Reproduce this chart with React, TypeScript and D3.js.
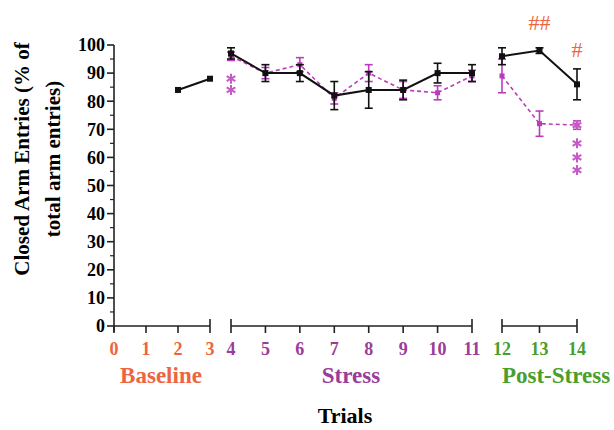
import * as d3 from 'd3';
import React from 'react';

// data
const yTicks = [0, 10, 20, 30, 40, 50, 60, 70, 80, 90, 100];
const baselineTicks = [0, 1, 2, 3];
const stressTicks = [4, 5, 6, 7, 8, 9, 10, 11];
const postTicks = [12, 13, 14];

const baselineTrials = [2, 3];
const baselineBlack = [84, 88];

const stressTrials = [4, 5, 6, 7, 8, 9, 10, 11];
const stressBlack = [97, 90, 90, 82, 84, 84, 90, 90];
const stressBlackErr = [2, 3, 3, 5, 6.5, 3.5, 3.5, 3];
const stressPink = [96, 90, 93, 81, 90, 84, 83, 89];
const stressPinkErr = [1.5, 2, 2.5, 2, 3, 3, 2.5, 2];

const postTrials = [12, 13, 14];
const postBlack = [96, 98, 86];
const postBlackErr = [3, 1, 5.5];
const postPink = [89, 72, 71.5];
const postPinkErr = [6, 4.5, 1.5];

// significance marks (asterisk stacks, in % units)
const pinkStars = [
  { trial: 4, y: [88, 84] },
  { trial: 14, y: [71.5, 65, 60, 55.5] },
];

const ORANGE = '#ee6440';
const PURPLE = '#9a3c9a';
const GREEN = '#4a9e2c';
const PINK = '#bb3cbb';
const FONT = '"Liberation Serif", "Times New Roman", serif';

const App = () => {
  const width = 614;
  const height = 430;

  // piecewise x scale, each section has its own spacing
  const x = d3.scaleLinear()
    .domain([0, 3, 4, 11, 12, 14])
    .range([114, 210, 231, 472, 502, 577]);
  const y = d3.scaleLinear().domain([0, 100]).range([326, 45]);

  const line = d3.line<[number, number]>()
    .x(d => x(d[0]))
    .y(d => y(d[1]));

  const zip = (a: number[], b: number[]) => a.map((t, i) => [t, b[i]] as [number, number]);

  const star = d3.symbol(d3.symbolAsterisk, 70)();

  const errBars = (trials: number[], vals: number[], errs: number[], color: string, cap: number, key: string) =>
    trials.map((t, i) => (
      <g key={key + i} stroke={color} strokeWidth={1.6}>
        <line x1={x(t)} x2={x(t)} y1={y(vals[i] + errs[i])} y2={y(vals[i] - errs[i])} />
        <line x1={x(t) - cap} x2={x(t) + cap} y1={y(vals[i] + errs[i])} y2={y(vals[i] + errs[i])} />
        <line x1={x(t) - cap} x2={x(t) + cap} y1={y(vals[i] - errs[i])} y2={y(vals[i] - errs[i])} />
      </g>
    ));

  const squares = (trials: number[], vals: number[], color: string, s: number, key: string) =>
    trials.map((t, i) => (
      <rect key={key + i} x={x(t) - s / 2} y={y(vals[i]) - s / 2} width={s} height={s} fill={color} />
    ));

  const minorTicks = d3.range(5, 100, 10);

  const segment = (ticks: number[], color: string, endCaps: boolean) => {
    const x0 = x(ticks[0]);
    const x1 = x(ticks[ticks.length - 1]);
    return (
      <g>
        <line x1={x0} x2={x1} y1={326} y2={326} stroke="#222" strokeWidth={1.6} />
        {ticks.map((t, i) => {
          const isEnd = endCaps && (i === 0 || i === ticks.length - 1);
          return (
            <g key={t}>
              <line x1={x(t)} x2={x(t)} y1={isEnd ? 319 : 326} y2={333} stroke="#222" strokeWidth={1.6} />
              <text x={x(t)} y={355} textAnchor="middle" fontSize={18} fontWeight="bold" fill={color}>{t}</text>
            </g>
          );
        })}
      </g>
    );
  };

  return (
    <svg width={width} height={height} style={{ position: 'absolute', left: 0, top: 0, background: '#fff' }} fontFamily={FONT}>
      {/* y axis */}
      <line x1={114} x2={114} y1={y(100)} y2={332} stroke="#222" strokeWidth={1.6} />
      {yTicks.map(t => (
        <g key={t}>
          <line x1={107} x2={114} y1={y(t)} y2={y(t)} stroke="#222" strokeWidth={1.6} />
          <text x={105} y={y(t)} dy="0.35em" textAnchor="end" fontSize={18} fontWeight="bold">{t}</text>
        </g>
      ))}
      {minorTicks.map(t => (
        <line key={'m' + t} x1={110} x2={114} y1={y(t)} y2={y(t)} stroke="#222" strokeWidth={1.2} />
      ))}
      <g transform="translate(0,159) rotate(-90)" fontSize={21} fontWeight="bold" textAnchor="middle">
        <text x={0} y={29}>Closed Arm Entries (% of</text>
        <text x={0} y={60}>total arm entries)</text>
      </g>

      {/* x axis sections */}
      {segment(baselineTicks, ORANGE, false)}
      <line x1={x(3)} x2={x(3)} y1={319} y2={326} stroke="#222" strokeWidth={1.6} />
      {segment(stressTicks, PURPLE, true)}
      {segment(postTicks, GREEN, true)}

      <text x={161} y={383} textAnchor="middle" fontSize={23} fontWeight="bold" fill={ORANGE}>Baseline</text>
      <text x={351} y={383} textAnchor="middle" fontSize={23} fontWeight="bold" fill={PURPLE}>Stress</text>
      <text x={556} y={383} textAnchor="middle" fontSize={23} fontWeight="bold" fill={GREEN}>Post-Stress</text>
      <text x={345} y={423} textAnchor="middle" fontSize={22} fontWeight="bold">Trials</text>

      {/* pink (dashed) series */}
      <path d={line(zip(stressTrials, stressPink)) || ''} fill="none" stroke={PINK} strokeWidth={1.6} strokeDasharray="4,3" />
      <path d={line(zip(postTrials, postPink)) || ''} fill="none" stroke={PINK} strokeWidth={1.6} strokeDasharray="4,3" />
      {errBars(stressTrials, stressPink, stressPinkErr, PINK, 4, 'sp')}
      {errBars(postTrials, postPink, postPinkErr, PINK, 4, 'pp')}
      {squares(stressTrials, stressPink, PINK, 5, 'sps')}
      {squares(postTrials, postPink, PINK, 5, 'pps')}

      {/* black series */}
      <path d={line(zip(baselineTrials, baselineBlack)) || ''} fill="none" stroke="#111" strokeWidth={2} />
      <path d={line(zip(stressTrials, stressBlack)) || ''} fill="none" stroke="#111" strokeWidth={2} />
      <path d={line(zip(postTrials, postBlack)) || ''} fill="none" stroke="#111" strokeWidth={2} />
      {errBars(stressTrials, stressBlack, stressBlackErr, '#111', 4, 'sb')}
      {errBars(postTrials, postBlack, postBlackErr, '#111', 4, 'pb')}
      {squares(baselineTrials, baselineBlack, '#111', 6, 'bbs')}
      {squares(stressTrials, stressBlack, '#111', 6, 'sbs')}
      {squares(postTrials, postBlack, '#111', 6, 'pbs')}

      {/* significance */}
      {pinkStars.map(s => s.y.map((v, i) => (
        <path key={s.trial + '-' + i} d={star || ''} transform={`translate(${x(s.trial)},${y(v)})`}
          fill="none" stroke="#c65ac6" strokeWidth={2} />
      )))}
      <text x={x(13)} y={30} textAnchor="middle" fontSize={22} fill={ORANGE}>##</text>
      <text x={x(14)} y={57} textAnchor="middle" fontSize={22} fill={ORANGE}>#</text>
    </svg>
  );
};

export default App;
